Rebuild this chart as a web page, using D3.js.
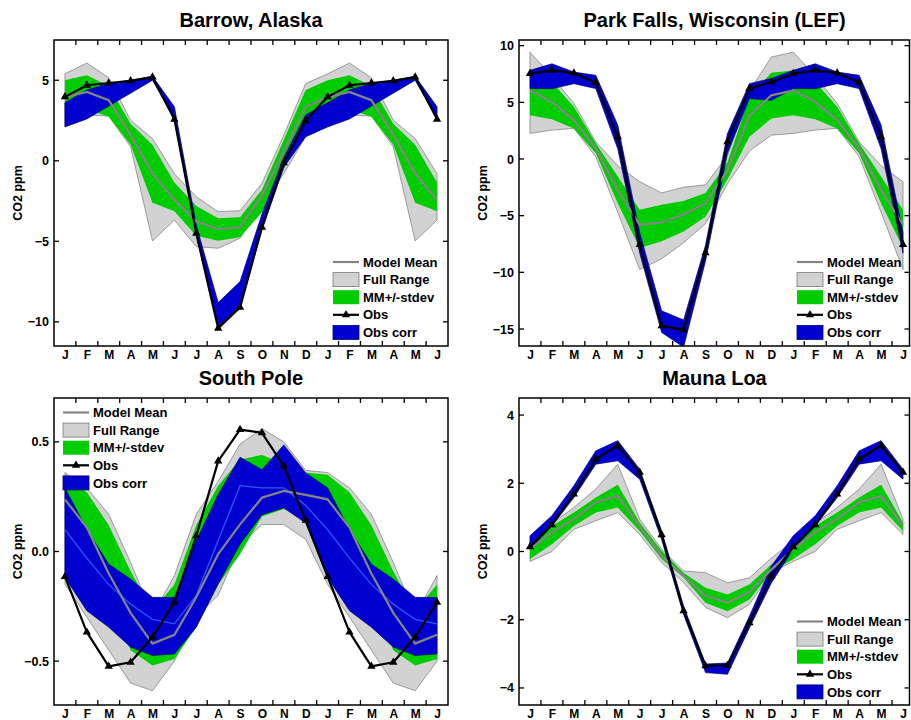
<!DOCTYPE html>
<html>
<head>
<meta charset="utf-8">
<script src="https://cdn.jsdelivr.net/npm/d3@7"></script>
<style>
  body { margin: 0; background: #fff; }
  svg { display: block; }
  text { font-family: "Liberation Sans", Arial, Helvetica, sans-serif; font-weight: bold; fill: #000; }
</style>
</head>
<body>
<svg id="chart" width="911" height="720"></svg>
<script>
// Month axis: a full year followed by the first half of the next year
const monthLabels = ["J","F","M","A","M","J","J","A","S","O","N","D","J","F","M","A","M","J"];

// Seasonal cycle, monthly values Jan..Dec (CO2 ppm anomaly)
// Barrow, Alaska
const barrowObs     = [3.97, 4.69, 4.83, 4.96, 5.2, 2.58, -4.5, -10.4, -9.1, -4.13, -0.12, 2.48];
const barrowCorrHi  = [3.6, 4.4, 4.8, 5.0, 5.25, 3.35, -4.0, -8.8, -7.5, -3.3, 0.2, 2.85];
const barrowCorrLo  = [2.1, 2.6, 3.4, 4.2, 5.0, 2.6, -4.6, -10.3, -9.05, -4.3, -0.4, 1.5];
const barrowRangeHi = [5.4, 6.07, 5.15, 2.52, 1.38, -0.8, -2.23, -3.16, -3.1, -1.4, 1.6, 4.8];
const barrowRangeLo = [2.15, 2.85, 2.77, 0.87, -4.98, -3.68, -5.33, -5.43, -4.81, -2.7, -0.8, 1.5];
const barrowSdHi    = [5.0, 5.31, 4.65, 2.3, 1.0, -1.35, -2.8, -3.57, -3.5, -1.8, 1.3, 4.4];
const barrowSdLo    = [3.0, 3.2, 2.73, 1.0, -2.6, -3.13, -4.65, -4.96, -4.75, -3.2, -0.5, 2.0];
const barrowMean    = [3.95, 4.28, 3.76, 1.6, -0.78, -2.44, -3.75, -4.25, -4.13, -2.15, 0.6, 3.35];
const barrowTicks   = [-10, -5, 0, 5];

// Park Falls, Wisconsin (LEF)
const lefObs     = [7.53, 7.82, 7.58, 6.74, 1.96, -7.56, -14.73, -15.08, -8.29, 1.52, 6.21, 6.8];
const lefCorrHi  = [7.82, 8.4, 7.67, 7.38, 3.0, -6.5, -13.4, -14.2, -7.6, 2.26, 6.65, 7.1];
const lefCorrLo  = [6.21, 6.2, 6.65, 6.21, 0.9, -8.3, -15.3, -16.6, -9.0, 0.5, 5.33, 5.18];
const lefRangeHi = [9.43, 7.3, 4.9, 1.52, -0.6, -2.0, -3.0, -2.49, -2.28, 0.3, 6.0, 9.0];
const lefRangeLo = [2.26, 2.55, 2.7, 0.2, -4.7, -9.75, -8.8, -7.4, -5.7, -2.2, 0.7, 2.1];
const lefSdHi    = [7.8, 6.8, 4.6, 1.38, -1.55, -4.48, -4.04, -3.7, -3.0, -0.3, 5.5, 7.6];
const lefSdLo    = [3.87, 3.5, 2.7, 0.5, -3.9, -7.85, -7.26, -6.4, -5.1, -1.8, 1.96, 3.57];
const lefMean    = [6.06, 5.04, 3.43, 0.94, -2.72, -5.8, -5.6, -4.9, -3.9, -1.0, 3.8, 5.62];
const lefTicks   = [-15, -10, -5, 0, 5, 10];

// South Pole
const spoObs     = [-0.115, -0.368, -0.524, -0.505, -0.39, -0.232, 0.071, 0.412, 0.556, 0.541, 0.389, 0.142];
const spoCorrHi  = [0.29, 0.1, -0.058, -0.126, -0.209, -0.21, 0.048, 0.26, 0.43, 0.373, 0.486, 0.358];
const spoCorrLo  = [-0.118, -0.27, -0.345, -0.436, -0.474, -0.467, -0.345, -0.148, 0.033, 0.168, 0.199, 0.13];
const spoCorrMid = [0.1, -0.03, -0.15, -0.24, -0.31, -0.33, -0.2, 0.05, 0.3, 0.29, 0.29, 0.21];
const spoRangeHi = [0.36, 0.29, 0.17, -0.05, -0.29, -0.11, 0.17, 0.32, 0.49, 0.56, 0.5, 0.37];
const spoRangeLo = [-0.15, -0.3, -0.45, -0.6, -0.635, -0.5, -0.3, -0.2, 0.03, 0.123, 0.123, 0.055];
const spoSdHi    = [0.35, 0.27, 0.12, -0.09, -0.27, -0.15, 0.12, 0.3, 0.42, 0.44, 0.4, 0.36];
const spoSdLo    = [0.15, 0.0, -0.2, -0.45, -0.52, -0.49, -0.345, -0.15, -0.012, 0.16, 0.194, 0.15];
const spoMean    = [0.238, 0.109, -0.1, -0.28, -0.42, -0.38, -0.209, -0.012, 0.124, 0.245, 0.276, 0.258];
const spoTicks   = [-0.5, 0.0, 0.5];

// Mauna Loa
const mloObs     = [0.137, 0.78, 1.68, 2.71, 3.1, 2.32, 0.49, -1.74, -3.35, -3.34, -2.09, -0.72];
const mloCorrHi  = [0.46, 1.05, 1.93, 2.95, 3.25, 2.41, 0.6, -1.6, -3.3, -3.27, -1.9, -0.43];
const mloCorrLo  = [0.07, 0.75, 1.58, 2.56, 2.66, 2.12, 0.35, -1.85, -3.55, -3.6, -2.24, -0.92];
const mloRangeHi = [0.31, 0.82, 1.29, 1.83, 2.56, 0.95, 0.07, -0.57, -0.62, -0.92, -0.77, -0.19];
const mloRangeLo = [-0.29, 0.0, 0.65, 0.9, 1.14, 0.5, -0.32, -0.91, -1.64, -1.94, -1.55, -0.62];
const mloSdHi    = [0.17, 0.75, 1.14, 1.58, 1.96, 0.85, 0.02, -0.62, -1.06, -1.26, -0.97, -0.38];
const mloSdLo    = [-0.22, 0.21, 0.75, 1.14, 1.29, 0.6, -0.22, -0.76, -1.5, -1.75, -1.41, -0.6];
const mloMean    = [0.07, 0.56, 0.95, 1.44, 1.63, 0.75, -0.13, -0.71, -1.3, -1.5, -1.19, -0.53];
const mloTicks   = [-4, -2, 0, 2, 4];

const legendLabels = ["Model Mean", "Full Range", "MM+/-stdev", "Obs", "Obs corr"];

const COLORS = {
  rangeFill: "#d2d2d2", rangeStroke: "#7a7a7a",
  sd: "#00cc00",
  corr: "#0000cf", corrStroke: "#000070", corrMid: "#2f55ff",
  mean: "#858585", obs: "#000000"
};

const W = 911, H = 720;
const svg = d3.select("#chart");
const defs = svg.append("defs");

// Extend a Jan..Dec series with Jan..Jun of the following year
const wrap = a => a.concat(a.slice(0, 6));

const panels = [
  { id: "brw", title: "Barrow, Alaska", left: 54, right: 448, top: 40, bottom: 346,
    domain: [-11.5, 7.5], ticks: barrowTicks, fmt: d3.format("d"),
    legend: { x: 333, y: 262 },
    obs: barrowObs, corrHi: barrowCorrHi, corrLo: barrowCorrLo, corrMid: null,
    rangeHi: barrowRangeHi, rangeLo: barrowRangeLo, sdHi: barrowSdHi, sdLo: barrowSdLo, mean: barrowMean },
  { id: "lef", title: "Park Falls, Wisconsin (LEF)", left: 519, right: 914, top: 40, bottom: 346,
    domain: [-16.5, 10.5], ticks: lefTicks, fmt: d3.format("d"),
    legend: { x: 797, y: 262 },
    obs: lefObs, corrHi: lefCorrHi, corrLo: lefCorrLo, corrMid: null,
    rangeHi: lefRangeHi, rangeLo: lefRangeLo, sdHi: lefSdHi, sdLo: lefSdLo, mean: lefMean },
  { id: "spo", title: "South Pole", left: 54, right: 448, top: 398, bottom: 705,
    domain: [-0.7, 0.7], ticks: spoTicks, fmt: d3.format(".1f"),
    legend: { x: 63, y: 412.5 },
    obs: spoObs, corrHi: spoCorrHi, corrLo: spoCorrLo, corrMid: spoCorrMid,
    rangeHi: spoRangeHi, rangeLo: spoRangeLo, sdHi: spoSdHi, sdLo: spoSdLo, mean: spoMean },
  { id: "mlo", title: "Mauna Loa", left: 519, right: 914, top: 398, bottom: 705,
    domain: [-4.5, 4.5], ticks: mloTicks, fmt: d3.format("d"),
    legend: { x: 797, y: 621.5 },
    obs: mloObs, corrHi: mloCorrHi, corrLo: mloCorrLo, corrMid: null,
    rangeHi: mloRangeHi, rangeLo: mloRangeLo, sdHi: mloSdHi, sdLo: mloSdLo, mean: mloMean }
];

panels.forEach(drawPanel);

function drawPanel(p) {
  const x = d3.scaleLinear().domain([0.5, 18.5]).range([p.left, p.right]);
  const y = d3.scaleLinear().domain(p.domain).range([p.bottom, p.top]);
  const months = d3.range(1, 19);

  const series = {
    obs: wrap(p.obs), corrHi: wrap(p.corrHi), corrLo: wrap(p.corrLo),
    rangeHi: wrap(p.rangeHi), rangeLo: wrap(p.rangeLo),
    sdHi: wrap(p.sdHi), sdLo: wrap(p.sdLo), mean: wrap(p.mean),
    corrMid: p.corrMid ? wrap(p.corrMid) : null
  };

  // frame is limited to the visible page width
  const frameRight = Math.min(p.right, W - 1.5);

  defs.append("clipPath").attr("id", "clip-" + p.id)
    .append("rect").attr("x", p.left).attr("y", p.top)
    .attr("width", frameRight - p.left).attr("height", p.bottom - p.top);

  const g = svg.append("g");
  const plot = g.append("g").attr("clip-path", `url(#clip-${p.id})`);

  const band = (hi, lo) => d3.area()
    .x((d, i) => x(months[i]))
    .y0((d, i) => y(lo[i]))
    .y1((d, i) => y(hi[i]))(hi);
  const line = arr => d3.line().x((d, i) => x(months[i])).y(d => y(d))(arr);

  plot.append("path").attr("d", band(series.rangeHi, series.rangeLo))
    .attr("fill", COLORS.rangeFill).attr("stroke", COLORS.rangeStroke).attr("stroke-width", 0.7);
  plot.append("path").attr("d", band(series.sdHi, series.sdLo))
    .attr("fill", COLORS.sd).attr("stroke", "none");
  plot.append("path").attr("d", band(series.corrHi, series.corrLo))
    .attr("fill", COLORS.corr).attr("stroke", COLORS.corrStroke).attr("stroke-width", 0.7);
  if (series.corrMid) {
    plot.append("path").attr("d", line(series.corrMid))
      .attr("fill", "none").attr("stroke", COLORS.corrMid).attr("stroke-width", 1.3);
  }
  plot.append("path").attr("d", line(series.mean))
    .attr("fill", "none").attr("stroke", COLORS.mean).attr("stroke-width", 2.2);
  plot.append("path").attr("d", line(series.obs))
    .attr("fill", "none").attr("stroke", COLORS.obs).attr("stroke-width", 2.2)
    .attr("stroke-linejoin", "round");
  plot.selectAll("path.marker").data(series.obs).enter().append("path")
    .attr("class", "marker")
    .attr("d", d3.symbol(d3.symbolTriangle).size(30))
    .attr("transform", (d, i) => `translate(${x(months[i])},${y(d)})`)
    .attr("fill", COLORS.obs);

  // Frame
  g.append("rect").attr("x", p.left).attr("y", p.top)
    .attr("width", frameRight - p.left).attr("height", p.bottom - p.top)
    .attr("fill", "none").attr("stroke", "#000").attr("stroke-width", 1.5);

  // Y axis: labels on the left, inward ticks on both sides
  const yAxis = d3.axisLeft(y).tickValues(p.ticks).tickFormat(p.fmt).tickSize(0).tickPadding(5);
  const ya = g.append("g").attr("transform", `translate(${p.left},0)`).call(yAxis);
  ya.select(".domain").remove();
  ya.selectAll("text").style("font-size", "12.5px").attr("font-family", null);
  p.ticks.forEach(t => {
    g.append("line").attr("x1", p.left).attr("x2", p.left + 5).attr("y1", y(t)).attr("y2", y(t))
      .attr("stroke", "#000").attr("stroke-width", 1.3);
    g.append("line").attr("x1", frameRight - 5).attr("x2", frameRight).attr("y1", y(t)).attr("y2", y(t))
      .attr("stroke", "#000").attr("stroke-width", 1.3);
  });

  // X axis: month letters at each month, tick marks between months
  const xAxis = d3.axisBottom(x).tickValues(months).tickFormat((d, i) => monthLabels[i])
    .tickSize(0).tickPadding(0);
  const xa = g.append("g").attr("transform", `translate(0,${p.bottom})`).call(xAxis);
  xa.select(".domain").remove();
  xa.selectAll("text").style("font-size", "12px").attr("font-family", null)
    .attr("y", 12.5).attr("dy", null);
  d3.range(1.5, 18, 1).forEach(t => {
    const xv = x(t);
    if (xv > frameRight) return;
    g.append("line").attr("x1", xv).attr("x2", xv).attr("y1", p.top).attr("y2", p.top + 5)
      .attr("stroke", "#000").attr("stroke-width", 1.3);
    g.append("line").attr("x1", xv).attr("x2", xv).attr("y1", p.bottom - 5).attr("y2", p.bottom)
      .attr("stroke", "#000").attr("stroke-width", 1.3);
  });

  // Title
  g.append("text").attr("x", (p.left + p.right) / 2 - (p.right > W ? 2 : 0)).attr("y", p.top - 13)
    .attr("text-anchor", "middle").style("font-size", "20px").text(p.title);

  // Y label
  g.append("text")
    .attr("transform", `translate(${p.left - 32},${(p.top + p.bottom) / 2}) rotate(-90)`)
    .attr("text-anchor", "middle").style("font-size", "12.5px").text("CO2 ppm");

  // Legend
  const lg = g.append("g").attr("transform", `translate(${p.legend.x},${p.legend.y})`);
  const rowH = 17.6, sw = 26;
  legendLabels.forEach((lab, k) => {
    const ry = k * rowH;
    if (k === 0) {
      lg.append("line").attr("x1", 0).attr("x2", sw).attr("y1", ry).attr("y2", ry)
        .attr("stroke", COLORS.mean).attr("stroke-width", 2.2);
    } else if (k === 1) {
      lg.append("rect").attr("x", 0).attr("y", ry - 7).attr("width", sw).attr("height", 14)
        .attr("fill", COLORS.rangeFill).attr("stroke", COLORS.rangeStroke).attr("stroke-width", 0.8);
    } else if (k === 2) {
      lg.append("rect").attr("x", 0).attr("y", ry - 7).attr("width", sw).attr("height", 14)
        .attr("fill", COLORS.sd);
    } else if (k === 3) {
      lg.append("line").attr("x1", 0).attr("x2", sw).attr("y1", ry).attr("y2", ry)
        .attr("stroke", COLORS.obs).attr("stroke-width", 2.2);
      lg.append("path").attr("d", d3.symbol(d3.symbolTriangle).size(30)())
        .attr("transform", `translate(${sw / 2},${ry})`).attr("fill", COLORS.obs);
    } else {
      lg.append("rect").attr("x", 0).attr("y", ry - 7).attr("width", sw).attr("height", 14)
        .attr("fill", COLORS.corr).attr("stroke", COLORS.corrStroke).attr("stroke-width", 0.8);
    }
    lg.append("text").attr("x", sw + 4).attr("y", ry + 4.6).style("font-size", "13px").text(lab);
  });
}
</script>
</body>
</html>
